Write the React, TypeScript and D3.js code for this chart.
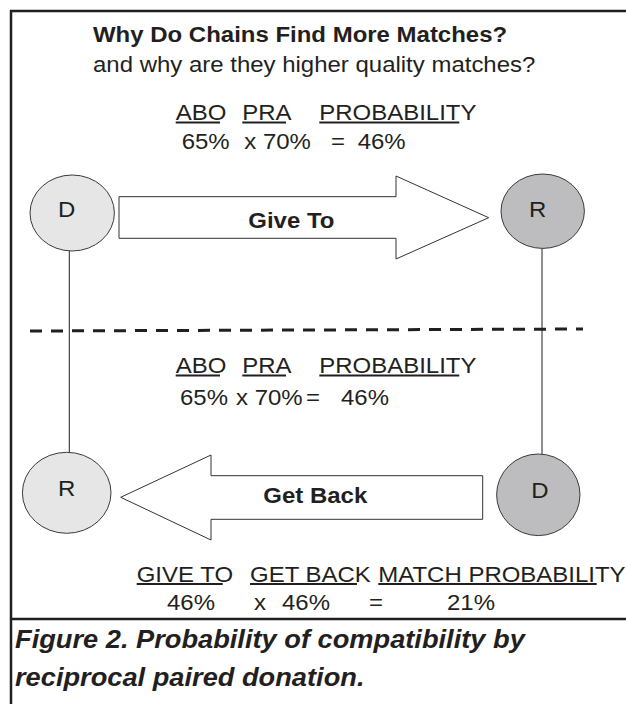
import React from "react";
import * as d3 from "d3";

// ---- data ----
const titleText = "Why Do Chains Find More Matches?";
const subtitleText = "and why are they higher quality matches?";
const rowHeaders = ["ABO", "PRA", "PROBABILITY"];
const aboValues = [65, 65];
const praValues = [70, 70];
const probValues = [46, 46];
const finalHeaders = ["GIVE TO", "GET BACK", "MATCH PROBABILITY"];
const finalValues = [46, 46, 21];
const topNodes = ["D", "R"];
const bottomNodes = ["R", "D"];
const arrowLabels = ["Give To", "Get Back"];
const captionLines = ["Figure 2. Probability of compatibility by", "reciprocal paired donation."];

const FONT = "'Liberation Sans', Arial, Helvetica, sans-serif";
const INK = "#231f20";
const SX = 1.09;
const pct = d3.format(".0%");
const p = (v: number) => pct(v / 100);

function T({ x, y, children, size = 22, weight = "normal", italic = false, anchor = "start" }: any) {
  return (
    <text
      transform={`translate(${x},${y}) scale(${SX},1)`}
      fontFamily={FONT}
      fontSize={size}
      fontWeight={weight}
      fontStyle={italic ? "italic" : "normal"}
      fill={INK}
      textAnchor={anchor}
    >
      {children}
    </text>
  );
}

function U({ x1, x2, y }: any) {
  return <line x1={x1} x2={x2} y1={y} y2={y} stroke={INK} strokeWidth={2} />;
}

export default function App() {
  const line = d3.line();
  const giveArrow = line([
    [119, 196.7], [396, 196.7], [396, 176], [488.7, 217.7], [396, 259], [396, 238.3], [119, 238.3],
  ]) + "Z";
  const getArrow = line([
    [482.7, 475.7], [211, 475.7], [211, 455], [120.7, 497.3], [211, 540], [211, 519.3], [482.7, 519.3],
  ]) + "Z";

  const headerX = [175.7, 242.3, 319.3];
  const underlineEnds = [220, 286, 459.3];

  return (
    <svg
      width={626}
      height={704}
      style={{ position: "absolute", left: 0, top: 0, background: "#fff" }}
    >
      <rect x={0} y={0} width={626} height={704} fill="#fff" />
      {/* frame */}
      <line x1={10} x2={626} y1={11} y2={11} stroke={INK} strokeWidth={2.5} />
      <line x1={11} x2={11} y1={10} y2={704} stroke={INK} strokeWidth={2.5} />
      <line x1={10} x2={626} y1={619} y2={619} stroke={INK} strokeWidth={2.5} />

      {/* titles */}
      <T x={93} y={42} weight="bold">{titleText}</T>
      <T x={93} y={72}>{subtitleText}</T>

      {/* top probability table */}
      {rowHeaders.map((h, i) => (
        <g key={"h1" + i}>
          <T x={headerX[i]} y={120}>{h}</T>
          <U x1={headerX[i]} x2={underlineEnds[i]} y={122.5} />
        </g>
      ))}
      <T x={181.7} y={149}>{p(aboValues[0])}</T>
      <T x={244.3} y={149}>{"x " + p(praValues[0])}</T>
      <T x={331} y={149}>=</T>
      <T x={357.7} y={149}>{p(probValues[0])}</T>

      {/* connectors */}
      <line x1={69.3} x2={69.3} y1={251} y2={452.5} stroke={INK} strokeWidth={1} />
      <line x1={542} x2={542} y1={248} y2={454} stroke={INK} strokeWidth={1} />

      {/* top arrow */}
      <path d={giveArrow} fill="#fff" stroke="#333" strokeWidth={1} />
      <T x={248.3} y={227.7} weight="bold">{arrowLabels[0]}</T>

      {/* top nodes */}
      <ellipse cx={72.2} cy={213} rx={42.2} ry={38} fill="#e6e6e7" stroke="#3a3a3a" strokeWidth={1} />
      <T x={66.7} y={217.3} anchor="middle">{topNodes[0]}</T>
      <ellipse cx={542.7} cy={211.2} rx={41.7} ry={37.2} fill="#bdbdbf" stroke="#3a3a3a" strokeWidth={1} />
      <T x={537.7} y={216.7} anchor="middle">{topNodes[1]}</T>

      {/* dashed divider */}
      <line x1={30} x2={583} y1={331} y2={329} stroke={INK} strokeWidth={3} strokeDasharray="12 9" />

      {/* second probability table */}
      {rowHeaders.map((h, i) => (
        <g key={"h2" + i}>
          <T x={headerX[i]} y={373}>{h}</T>
          <U x1={headerX[i]} x2={underlineEnds[i]} y={375.5} />
        </g>
      ))}
      <T x={180} y={405}>{p(aboValues[1])}</T>
      <T x={236} y={405}>{"x " + p(praValues[1])}</T>
      <T x={306} y={405}>=</T>
      <T x={341} y={405}>{p(probValues[1])}</T>

      {/* bottom arrow */}
      <path d={getArrow} fill="#fff" stroke="#333" strokeWidth={1} />
      <T x={263.3} y={503.3} weight="bold">{arrowLabels[1]}</T>

      {/* bottom nodes */}
      <ellipse cx={66.7} cy={492.8} rx={44.3} ry={40.5} fill="#e6e6e7" stroke="#3a3a3a" strokeWidth={1} />
      <T x={66.7} y={496} anchor="middle">{bottomNodes[0]}</T>
      <ellipse cx={538.3} cy={494.8} rx={41.7} ry={40.8} fill="#bdbdbf" stroke="#3a3a3a" strokeWidth={1} />
      <T x={540} y={498.3} anchor="middle">{bottomNodes[1]}</T>

      {/* final table */}
      <T x={136.7} y={581.7}>{finalHeaders[0]}</T>
      <U x1={136.7} x2={222.7} y={584} />
      <T x={250} y={581.7}>{finalHeaders[1]}</T>
      <U x1={250} x2={357} y={584} />
      <T x={378.3} y={581.7}>{finalHeaders[2]}</T>
      <U x1={378.3} x2={596.7} y={584} />

      <T x={167} y={610}>{p(finalValues[0])}</T>
      <T x={254} y={610}>x</T>
      <T x={282} y={610}>{p(finalValues[1])}</T>
      <T x={369} y={610}>=</T>
      <T x={447} y={610}>{p(finalValues[2])}</T>

      {/* caption */}
      <T x={15} y={648} size={25} weight="bold" italic>{captionLines[0]}</T>
      <T x={15} y={686} size={25} weight="bold" italic>{captionLines[1]}</T>
    </svg>
  );
}
